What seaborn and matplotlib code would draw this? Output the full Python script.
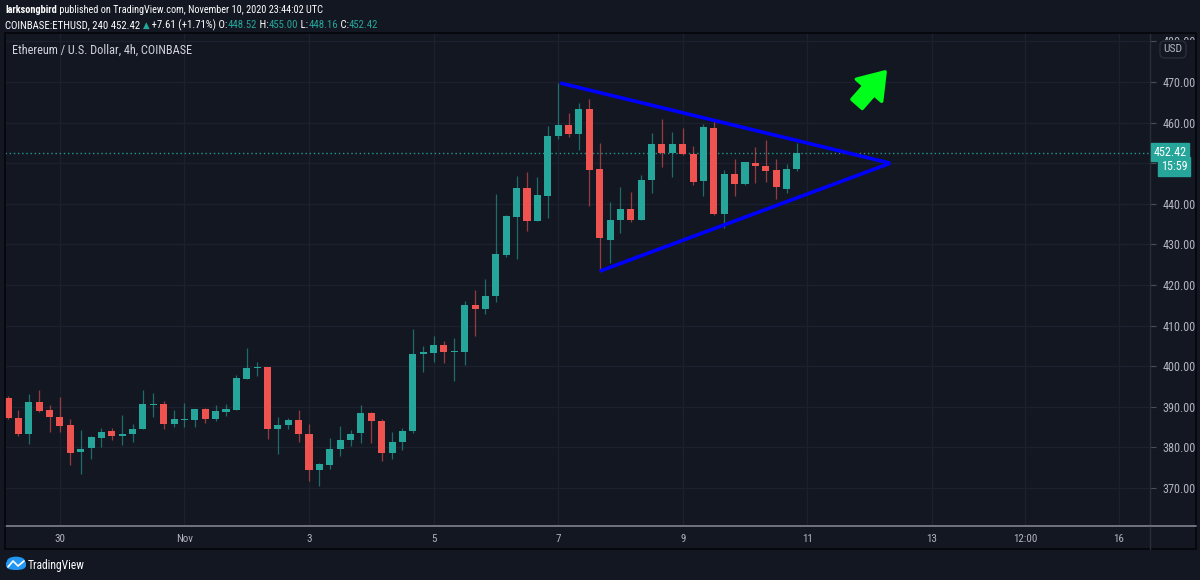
import os
import numpy as np
import pandas as pd
import matplotlib
matplotlib.use("Agg")
import matplotlib.pyplot as plt
import matplotlib.patches as mpatches
from matplotlib import font_manager
from matplotlib.font_manager import FontProperties
from matplotlib.transforms import Bbox
import seaborn as sns

# ---------------- data ----------------
start_time = "2020-10-29 04:00"
opens = [392.1, 387.3, 383.2, 391.2, 389.1, 387.6, 385.5, 378.9, 379.8, 382.4,
         384.0, 382.8, 383.2, 384.5, 390.4, 390.6, 385.7, 386.8, 386.7, 389.5,
         387.0, 388.7, 389.2, 396.9, 399.6, 399.7, 384.5, 385.4, 386.8, 383.4,
         374.5, 375.7, 379.6, 381.7, 383.6, 388.5, 386.6, 378.5, 381.4, 384.1,
         403.1, 403.2, 405.2, 403.5, 403.6, 415.0, 414.0, 417.3, 427.4, 436.8,
         443.8, 435.8, 442.0, 456.8, 459.4, 457.1, 463.3, 448.5, 431.0, 435.9,
         438.8, 436.1, 445.9, 454.7, 452.6, 454.7, 452.2, 445.6, 458.7, 437.6,
         447.3, 445.0, 450.0, 449.4, 448.3, 443.7, 448.52]
highs = [392.7, 389.2, 393.2, 394.1, 390.4, 392.3, 387.0, 384.2, 382.7, 384.7,
         384.9, 388.0, 385.7, 394.1, 393.5, 391.5, 389.2, 391.0, 389.5, 389.8,
         390.4, 390.7, 397.8, 404.6, 401.0, 399.8, 387.6, 387.2, 389.1, 385.8,
         376.2, 382.4, 385.3, 384.3, 390.4, 388.8, 386.9, 383.9, 384.9, 409.2,
         405.0, 407.4, 406.2, 407.0, 416.1, 418.7, 421.4, 442.3, 437.2, 446.9,
         447.8, 446.7, 459.2, 469.7, 462.3, 464.9, 465.8, 454.9, 440.4, 444.1,
         443.0, 447.1, 457.4, 460.8, 457.8, 458.6, 454.3, 459.6, 460.4, 448.3,
         451.0, 450.2, 454.1, 455.7, 451.0, 449.9, 455.00]
lows = [386.9, 382.8, 380.8, 388.8, 383.7, 383.7, 375.7, 373.5, 377.1, 380.0,
        381.7, 380.6, 381.4, 384.5, 387.6, 384.5, 385.1, 385.1, 385.0, 385.9,
        386.5, 387.8, 389.2, 396.9, 397.7, 382.0, 378.3, 384.5, 381.3, 371.8,
        370.5, 374.6, 377.9, 380.3, 381.2, 381.2, 376.7, 377.2, 379.4, 383.5,
        398.6, 401.0, 400.7, 396.4, 400.4, 407.4, 412.8, 415.7, 426.8, 426.4,
        433.4, 435.8, 436.4, 456.0, 456.4, 453.2, 439.5, 423.3, 425.5, 432.7,
        435.6, 436.1, 442.6, 449.1, 446.7, 451.9, 444.6, 441.8, 437.2, 434.0,
        441.8, 444.6, 445.2, 445.4, 441.1, 442.6, 448.16]
closes = [387.2, 383.2, 391.1, 388.9, 387.6, 385.3, 378.7, 379.7, 382.6, 383.9,
          382.7, 383.3, 384.5, 390.6, 390.5, 385.7, 386.9, 386.9, 389.5, 387.0,
          389.0, 389.5, 397.0, 399.6, 399.7, 384.6, 385.6, 386.8, 383.4, 374.4,
          375.8, 379.7, 381.8, 383.4, 388.4, 386.6, 378.5, 381.4, 384.1, 403.0,
          403.2, 405.2, 403.5, 403.6, 415.0, 414.0, 417.3, 427.6, 437.0, 443.8,
          435.8, 442.1, 456.8, 459.4, 457.1, 463.3, 448.3, 431.5, 435.9, 438.6,
          436.1, 445.9, 454.7, 452.6, 454.7, 452.3, 445.4, 458.8, 437.6, 447.3,
          445.0, 450.2, 449.3, 448.2, 444.1, 448.6, 452.42]

tick_dates = ["2020-10-30", "2020-11-01", "2020-11-03", "2020-11-05", "2020-11-07",
              "2020-11-09", "2020-11-11", "2020-11-13", "2020-11-14 12:00", "2020-11-16"]
tick_labels = ["30", "Nov", "3", "5", "7", "9", "11", "13", "12:00", "16"]
price_ticks = [370, 380, 390, 400, 410, 420, 430, 440, 450, 460, 470, 480]

# triangle drawing (time, price)
upper_line_t = ["2020-11-07 00:48", "2020-11-12 08:00"]
upper_line_p = [469.75, 450.0]
lower_line_t = ["2020-11-07 16:00", "2020-11-12 08:00"]
lower_line_p = [423.4, 450.0]
arrow_t = ["2020-11-11 19:12", "2020-11-12 06:00"]
arrow_p = [464.6, 472.5]

last_price = 452.42
countdown = "15:59"
title_line1_bold = "larksongbird"
title_line1_rest = " published on TradingView.com, November 10, 2020 23:44:02 UTC"
legend_text = "Ethereum / U.S. Dollar, 4h, COINBASE"

# ---------------- style ----------------
BG = "#131722"
GRID = "#1d212d"
TXT = "#d1d4dc"
AXTXT = "#b2b5be"
UP = "#26a69a"
DOWN = "#ef5350"

sns.set_theme(style="dark", rc={"axes.facecolor": BG, "figure.facecolor": BG})


def pick(cands):
    names = {f.name for f in font_manager.fontManager.ttflist}
    for c in cands:
        if c in names:
            return c
    return "DejaVu Sans"


FONT = pick(["Lato", "Open Sans", "DejaVu Sans"])
plt.rcParams["font.family"] = [FONT, "DejaVu Sans"]


def narrow_file(bold=False):
    keys = ["liberationsansnarrow", "robotocondensed", "opensans_condensed",
            "opensanscondensed", "dejavusanscondensed"]
    files = sorted({f.fname for f in font_manager.fontManager.ttflist})
    for k in keys:
        for fn in files:
            b = os.path.basename(fn).lower().replace(" ", "")
            if k not in b:
                continue
            if any(w in b for w in ["italic", "oblique", "light", "semibold", "extrabold", "medium",
                                    "black", "thin"]):
                continue
            if ("bold" in b) == bold:
                return fn
    return None


NARROW = narrow_file(False)
NARROW_B = narrow_file(True) or NARROW


def fprop(size, bold=False):
    fn = NARROW_B if bold else NARROW
    if fn:
        return FontProperties(fname=fn, size=size)
    return FontProperties(family=FONT, size=size, weight="bold" if bold else "normal")


W, H = 1200, 580
fig = plt.figure(figsize=(W / 100, H / 100), dpi=100, facecolor=BG)
renderer = fig.canvas.get_renderer()


def fx(px):
    return px / W


def fy(py):
    return 1 - py / H


def text_width(s, fp):
    t = fig.text(0, 0, s, fontproperties=fp)
    w = t.get_window_extent(renderer).width
    t.remove()
    return w


def fit_size(s, target, bold=False):
    return 10 * target / text_width(s, fprop(10, bold))


# chart axes
ax_l, ax_r, ax_t, ax_b = 5, 1150, 33, 526
ax = fig.add_axes([fx(ax_l), fy(ax_b), (ax_r - ax_l) / W, (ax_b - ax_t) / H])
ax.set_facecolor(BG)

t0 = pd.Timestamp(start_time)
times = pd.date_range(t0, periods=len(opens), freq="4h")


def tpos(t):
    return (pd.Timestamp(t) - t0) / pd.Timedelta(hours=4)


xs = np.array([tpos(t) for t in times])
o = np.array(opens); c = np.array(closes); hi = np.array(highs); lo = np.array(lows)
up = c >= o

px_per = 10.38
ax.set_xlim((ax_l - 8) / px_per, (ax_r - 8) / px_per)
ppu = 4.06
ax.set_ylim(470 - (ax_b - 82) / ppu, 470 + (82 - ax_t) / ppu)

# grid
tick_pos = [tpos(t) for t in tick_dates]
for tp in tick_pos:
    ax.axvline(tp, color=GRID, lw=1, zorder=0)
for p in price_ticks:
    ax.axhline(p, color=GRID, lw=1, zorder=0)
ax.grid(False)

# candles
cols = np.where(up, UP, DOWN)
ax.vlines(xs, lo, hi, colors=list(cols), lw=0.9, alpha=0.6, zorder=2)
body_h = np.maximum(np.abs(c - o), 0.3)
body_b = np.minimum(o, c)
ax.bar(xs, body_h, bottom=body_b, width=0.68, color=list(cols), lw=0, zorder=3)

# current price dotted line
ax.axhline(last_price, color=UP, lw=1, ls=(0, (1, 2)), alpha=0.9, zorder=1)

# triangle lines
ax.plot([tpos(t) for t in upper_line_t], upper_line_p, color="#0000ff", lw=2.6,
        solid_capstyle="butt", zorder=4)
ax.plot([tpos(t) for t in lower_line_t], lower_line_p, color="#0000ff", lw=2.6,
        solid_capstyle="butt", zorder=4)

# green arrow
ax.annotate("", xy=(tpos(arrow_t[1]), arrow_p[1]), xytext=(tpos(arrow_t[0]), arrow_p[0]),
            annotation_clip=False,
            arrowprops=dict(arrowstyle="simple,head_length=0.8,head_width=1.1,tail_width=0.45",
                            mutation_scale=22, fc="#00ff1a", ec="#00ff1a", lw=2.5,
                            joinstyle="round", shrinkA=0, shrinkB=0))

# axes ticks
xfp = fprop(fit_size("Nov", 17))
yfp = fprop(fit_size("470.00", 33))
ax.set_xticks(tick_pos)
ax.set_xticklabels(tick_labels)
ax.tick_params(axis="x", length=0, pad=6, labelcolor=AXTXT)
for lbl in ax.get_xticklabels():
    lbl.set_fontproperties(xfp)
ax.yaxis.tick_right()
ax.set_yticks(price_ticks)
# the 450 label sits under the price tags in the reference
ax.set_yticklabels(["" if p == 450 else f"{p:.2f}" for p in price_ticks])
ax.tick_params(axis="y", length=4, width=0.8, color="#4a4e59", pad=5,
               labelcolor=AXTXT, right=True, left=False)
for lbl in ax.get_yticklabels():
    lbl.set_fontproperties(yfp)
# top label is only partly visible above the USD badge
top_lbl = ax.get_yticklabels()[-1]
top_lbl.set_clip_box(Bbox.from_extents(1150, H - 40, 1200, H - 33))
top_lbl.set_clip_on(True)

for s in ["top", "left"]:
    ax.spines[s].set_visible(False)
ax.spines["right"].set_color("#2a2e39")
ax.spines["right"].set_linewidth(1)
ax.spines["bottom"].set_color("#787b86")
ax.spines["bottom"].set_linewidth(1.3)

# panel borders
fig.add_artist(plt.Line2D([fx(ax_r), fx(ax_r)], [fy(526), fy(549)], color="#2a2e39", lw=1))
fig.add_artist(plt.Line2D([fx(1151), fx(1196)], [fy(526), fy(526)], color="#787b86", lw=1.3))
fig.add_artist(mpatches.Rectangle((fx(4.5), fy(549)), fx(1196 - 4.5), (549 - 33) / H,
                                  transform=fig.transFigure, fill=False, ec="#05060a", lw=1.2))


# ---------------- texts ----------------
def pieces(x, y, parts, size):
    cur = x
    for s, col, bold in parts:
        fp = fprop(size, bold)
        if s == "▲":
            fp = FontProperties(family="DejaVu Sans", size=size * 0.8)
        fig.text(fx(cur), fy(y), s, fontproperties=fp, color=col, va="center", ha="left")
        cur += text_width(s, fp)


line1 = [(title_line1_bold, "#ffffff", True), (title_line1_rest, "#ffffff", False)]
w1 = sum(text_width(s, fprop(10, b)) for s, _, b in line1)
pieces(5, 10, line1, 10 * (323 - 5) / w1)

line2 = [("COINBASE:ETHUSD, 240 452.42 ", "#ffffff", False), ("▲", UP, False),
         (" +7.61 (+1.71%) O:", "#ffffff", False), ("448.52", UP, False),
         (" H:", "#ffffff", False), ("455.00", UP, False),
         (" L:", "#ffffff", False), ("448.16", UP, False),
         (" C:", "#ffffff", False), ("452.42", UP, False)]
w2 = sum(text_width(s, fprop(10, b)) for s, _, b in line2)
pieces(5, 25, line2, 10 * (373 - 5) / w2)

fig.text(fx(12), fy(50), legend_text, fontproperties=fprop(fit_size(legend_text, 181)),
         color=TXT, va="center")

# USD badge
fig.text(fx(1173), fy(49.5), "USD", fontproperties=fprop(fit_size("USD", 19)), color=AXTXT,
         ha="center", va="center",
         bbox=dict(boxstyle="round,pad=0.3,rounding_size=0.4", fc=BG, ec="#2a2e39", lw=1))

# price tags
tfp = fprop(fit_size("452.42", 33))
fig.text(fx(1170), fy(152), f"{last_price:.2f}", fontproperties=tfp, color="#ffffff",
         ha="center", va="center", bbox=dict(boxstyle="square,pad=0.22", fc=UP, ec=UP))
fig.text(fx(1174), fy(166.5), countdown, fontproperties=tfp, color="#ffffff", ha="center",
         va="center", bbox=dict(boxstyle="square,pad=0.22", fc=UP, ec=UP))

# TradingView logo
fig.add_artist(mpatches.FancyBboxPatch((fx(6), fy(570)), fx(20), 11 / H,
                                       boxstyle="round,pad=0,rounding_size=0.008",
                                       transform=fig.transFigure, fc="#2196f3", ec="none"))
fig.add_artist(mpatches.Circle((fx(16), fy(561)), 0.0075, transform=fig.transFigure,
                               fc="#2196f3", ec="none"))
fig.add_artist(plt.Line2D([fx(8), fx(13), fx(18), fx(24)], [fy(567), fy(561), fy(566), fy(561)],
                          color="#ffffff", lw=1.2))
fig.text(fx(28), fy(565), "TradingView", fontproperties=fprop(fit_size("TradingView", 57)),
         color="#ffffff", va="center")

fig.savefig("out.png", dpi=100, facecolor=BG)
